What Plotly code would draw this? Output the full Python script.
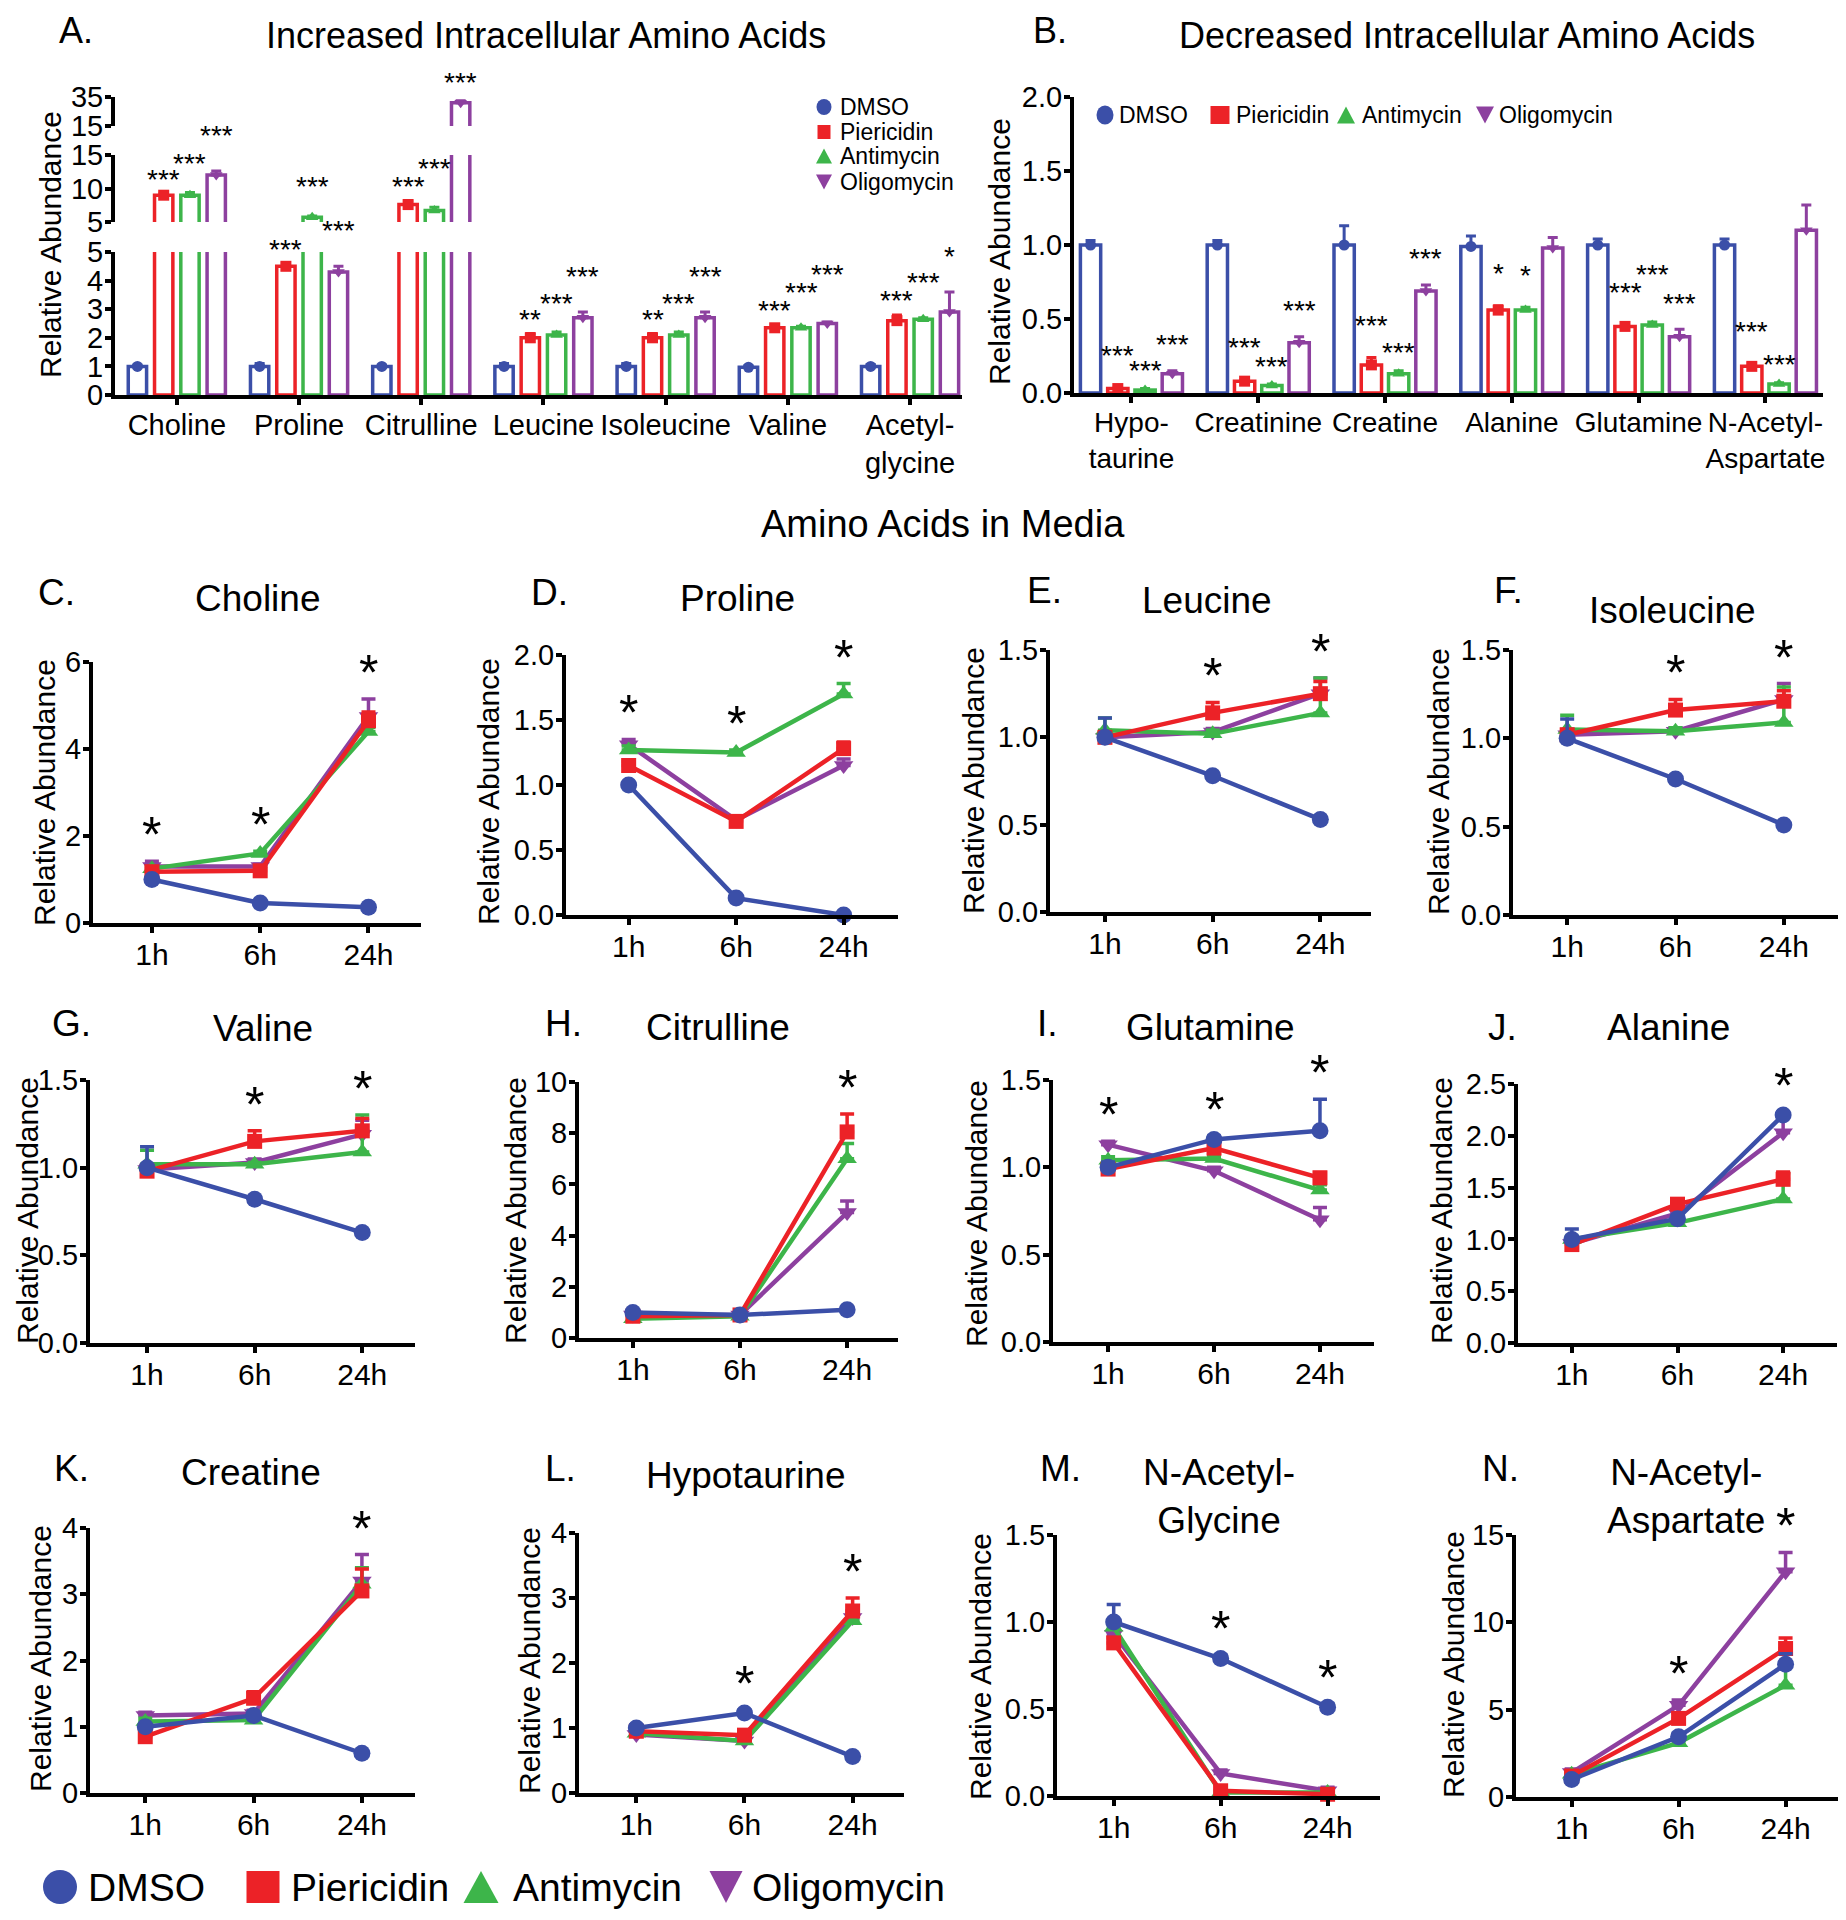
import plotly.graph_objects as go

# ---------------------------------------------------------------- data
treatments = ['DMSO', 'Piericidin', 'Antimycin', 'Oligomycin']
time_labels = ['1h', '6h', '24h']

# Panel A - increased intracellular amino acids (mean and SEM)
a_categories = ['Choline', 'Proline', 'Citrulline', 'Leucine', 'Isoleucine', 'Valine', 'Acetyl-<br>glycine']
a_dmso = [1.0, 1.0, 1.0, 1.0, 1.0, 0.97, 1.0]
a_piericidin = [9.0, 4.5, 7.6, 2.0, 2.0, 2.35, 2.6]
a_antimycin = [9.0, 5.7, 6.7, 2.1, 2.1, 2.35, 2.65]
a_oligomycin = [12.0, 4.3, 31.0, 2.7, 2.7, 2.5, 2.9]
a_dmso_err = [0.05, 0.1, 0.05, 0.1, 0.1, 0.05, 0.07]
a_piericidin_err = [0.3, 0.1, 0.6, 0.15, 0.15, 0.1, 0.2]
a_antimycin_err = [0.4, 0.2, 0.5, 0.1, 0.1, 0.05, 0.05]
a_oligomycin_err = [0.6, 0.2, 1.5, 0.2, 0.2, 0.05, 0.7]
a_dmso_sig = ['', '', '', '', '', '', '']
a_piericidin_sig = ['***', '***', '***', '**', '**', '***', '***']
a_antimycin_sig = ['***', '***', '***', '***', '***', '***', '***']
a_oligomycin_sig = ['***', '***', '***', '***', '***', '***', '*']

# Panel B - decreased intracellular amino acids (mean and SEM)
b_categories = ['Hypo-<br>taurine', 'Creatinine', 'Creatine', 'Alanine', 'Glutamine', 'N-Acetyl-<br>Aspartate']
b_dmso = [1.0, 1.0, 1.0, 0.99, 1.0, 1.0]
b_piericidin = [0.03, 0.08, 0.19, 0.56, 0.45, 0.18]
b_antimycin = [0.02, 0.05, 0.13, 0.56, 0.46, 0.06]
b_oligomycin = [0.13, 0.34, 0.69, 0.98, 0.38, 1.10]
b_dmso_err = [0.03, 0.03, 0.13, 0.07, 0.04, 0.04]
b_piericidin_err = [0.01, 0.01, 0.05, 0.03, 0.01, 0.02]
b_antimycin_err = [0.01, 0.01, 0.02, 0.02, 0.02, 0.01]
b_oligomycin_err = [0.02, 0.04, 0.04, 0.07, 0.05, 0.17]
b_dmso_sig = ['', '', '', '', '', '']
b_piericidin_sig = ['***', '***', '***', '*', '***', '***']
b_antimycin_sig = ['***', '***', '***', '*', '***', '***']
b_oligomycin_sig = ['***', '***', '***', '', '***', '']

# Panels C-N - amino acids in media; rows = DMSO, Piericidin, Antimycin, Oligomycin; cols = 1h, 6h, 24h
choline_mean = [[1.0, 0.46, 0.36], [1.18, 1.2, 4.65], [1.25, 1.6, 4.4], [1.3, 1.3, 4.75]]
choline_err = [[0.03, 0.03, 0.03], [0.05, 0.05, 0.2], [0.05, 0.05, 0.1], [0.12, 0.05, 0.4]]
choline_sig = ['*', '*', '*']

proline_mean = [[1.0, 0.13, 0.0], [1.15, 0.72, 1.28], [1.27, 1.25, 1.70], [1.31, 0.73, 1.15]]
proline_err = [[0.02, 0.02, 0.01], [0.03, 0.03, 0.05], [0.03, 0.02, 0.08], [0.04, 0.02, 0.05]]
proline_sig = ['*', '*', '*']

leucine_mean = [[1.0, 0.78, 0.53], [1.0, 1.14, 1.25], [1.04, 1.02, 1.14], [1.0, 1.03, 1.25]]
leucine_err = [[0.11, 0.01, 0.01], [0.03, 0.06, 0.07], [0.07, 0.02, 0.2], [0.02, 0.02, 0.09]]
leucine_sig = ['', '*', '*']

isoleucine_mean = [[1.0, 0.77, 0.51], [1.02, 1.16, 1.21], [1.05, 1.04, 1.09], [1.02, 1.04, 1.22]]
isoleucine_err = [[0.11, 0.01, 0.01], [0.03, 0.06, 0.06], [0.08, 0.02, 0.2], [0.02, 0.02, 0.09]]
isoleucine_sig = ['', '*', '*']

valine_mean = [[1.0, 0.82, 0.63], [0.98, 1.15, 1.21], [1.02, 1.02, 1.09], [0.99, 1.03, 1.19]]
valine_err = [[0.12, 0.01, 0.01], [0.03, 0.06, 0.07], [0.08, 0.01, 0.21], [0.02, 0.02, 0.08]]
valine_sig = ['', '*', '*']

citrulline_mean = [[1.0, 0.9, 1.1], [0.85, 0.9, 8.05], [0.75, 0.85, 7.0], [0.9, 0.9, 4.9]]
citrulline_err = [[0.05, 0.02, 0.05], [0.1, 0.05, 0.7], [0.05, 0.05, 0.6], [0.05, 0.05, 0.45]]
citrulline_sig = ['', '', '*']

glutamine_mean = [[1.0, 1.16, 1.21], [0.99, 1.11, 0.94], [1.04, 1.05, 0.87], [1.13, 0.98, 0.70]]
glutamine_err = [[0.03, 0.02, 0.18], [0.02, 0.03, 0.03], [0.02, 0.02, 0.03], [0.02, 0.02, 0.07]]
glutamine_sig = ['*', '*', '*']

alanine_mean = [[1.0, 1.2, 2.2], [0.95, 1.34, 1.58], [1.0, 1.16, 1.39], [0.96, 1.25, 2.03]]
alanine_err = [[0.1, 0.03, 0.03], [0.03, 0.04, 0.07], [0.03, 0.03, 0.25], [0.03, 0.04, 0.15]]
alanine_sig = ['', '', '*']

creatine_mean = [[1.0, 1.17, 0.6], [0.85, 1.43, 3.05], [1.08, 1.1, 3.15], [1.17, 1.2, 3.2]]
creatine_err = [[0.03, 0.05, 0.03], [0.05, 0.1, 0.33], [0.05, 0.05, 0.25], [0.05, 0.05, 0.4]]
creatine_sig = ['', '', '*']

hypotaurine_mean = [[1.0, 1.23, 0.56], [0.95, 0.89, 2.8], [0.92, 0.8, 2.65], [0.9, 0.8, 2.7]]
hypotaurine_err = [[0.05, 0.05, 0.03], [0.05, 0.05, 0.2], [0.05, 0.05, 0.1], [0.05, 0.05, 0.1]]
hypotaurine_sig = ['', '*', '*']

nacetylglycine_mean = [[1.0, 0.79, 0.51], [0.88, 0.03, 0.01], [0.97, 0.02, 0.02], [0.93, 0.13, 0.03]]
nacetylglycine_err = [[0.1, 0.02, 0.02], [0.03, 0.02, 0.01], [0.02, 0.01, 0.01], [0.02, 0.02, 0.02]]
nacetylglycine_sig = ['', '*', '*']

nacetylaspartate_mean = [[1.0, 3.45, 7.6], [1.2, 4.5, 8.5], [1.3, 3.1, 6.4], [1.4, 5.25, 12.9]]
nacetylaspartate_err = [[0.1, 0.2, 0.6], [0.2, 0.3, 0.6], [0.2, 0.2, 1.2], [0.2, 0.3, 1.1]]
nacetylaspartate_sig = ['', '*', '*']

# ---------------------------------------------------------------- style
PAGE_W, PAGE_H = 1846, 1920
BODY = 8                      # default page margin around the plot div
W, H = PAGE_W - BODY, PAGE_H - BODY
FONT = 'Liberation Sans, Arial, Helvetica, sans-serif'
COLORS = ['#3b4fa8', '#ec2227', '#3db54a', '#8d409f']
SYMBOLS = ['circle', 'square', 'triangle-up', 'triangle-down']
LINE_SIZES = [17, 15, 17, 17]
AXW = 4


def fx(px):
    return (px - BODY) / W


def fy(py):
    return 1 - (py - BODY) / H


def axis_style(**kw):
    d = dict(showline=True, linecolor='black', linewidth=AXW, ticks='outside', ticklen=6,
             tickwidth=3.5, tickcolor='black', showgrid=False, zeroline=False, automargin=False,
             tickfont=dict(family=FONT, size=29, color='black'), fixedrange=True)
    d.update(kw)
    return d


def y_axis_style(**kw):
    return axis_style(ticklabelstandoff=-4, **kw)


fig = go.Figure()
layout = dict(width=W, height=H, margin=dict(l=0, r=0, t=0, b=0, pad=0, autoexpand=False),
              paper_bgcolor='white', plot_bgcolor='white', barmode='overlay', showlegend=False,
              font=dict(family=FONT, color='black'))
annotations = []
shapes = []


def text_ann(x, y, text, size, color='black', **kw):
    d = dict(x=fx(x), y=fy(y), xref='paper', yref='paper', text=text, showarrow=False,
             font=dict(family=FONT, size=size, color=color), xanchor='center', yanchor='middle')
    d.update(kw)
    annotations.append(d)


def star_ann(xref, yref, x, yfrac, text, size):
    # significance label: x in data units, y as a fraction of the y axis domain
    annotations.append(dict(x=x, y=yfrac, xref=xref, yref=f'{yref} domain', text=text,
                            showarrow=False, xanchor='center', yanchor='middle',
                            font=dict(family=FONT, size=size, color='black')))


def stagger(star_px, prev_px, text, prev_text):
    # raise a label that would collide with its left neighbour (pixel space, y grows downwards)
    if prev_px is not None and len(text) > 1 and len(prev_text) > 1 and abs(star_px - prev_px) < 15:
        return prev_px - 18
    return star_px


def legend_entry(gx, tx, y, j, gw, gh, tsize):
    x0, x1, xc = fx(gx - gw / 2), fx(gx + gw / 2), fx(gx)
    yt, yb = fy(y - gh / 2), fy(y + gh / 2)
    base = dict(xref='paper', yref='paper', fillcolor=COLORS[j], line=dict(width=0), layer='above')
    if j == 0:
        shapes.append(dict(type='circle', x0=x0, x1=x1, y0=yb, y1=yt, **base))
    elif j == 1:
        shapes.append(dict(type='rect', x0=x0, x1=x1, y0=yb, y1=yt, **base))
    elif j == 2:
        shapes.append(dict(type='path', path=f'M {x0},{yb} L {x1},{yb} L {xc},{yt} Z', **base))
    else:
        shapes.append(dict(type='path', path=f'M {x0},{yt} L {x1},{yt} L {xc},{yb} Z', **base))
    text_ann(tx, y, treatments[j], tsize, xanchor='left')


def y_title(x, y):
    text_ann(x, y, 'Relative Abundance', 30, textangle=-90)


# ---------------------------------------------------------------- panel A (broken axis)
a_means = [a_dmso, a_piericidin, a_antimycin, a_oligomycin]
a_errs = [a_dmso_err, a_piericidin_err, a_antimycin_err, a_oligomycin_err]
a_sigs = [a_dmso_sig, a_piericidin_sig, a_antimycin_sig, a_oligomycin_sig]
A_SEGS = [('y', 'yaxis', (395, 252), (0, 5), [0, 1, 2, 3, 4, 5]),
          ('y2', 'yaxis2', (222, 155), (5, 15), [5, 10, 15]),
          ('y3', 'yaxis3', (126, 97), (15, 35), [15, 35])]
OFF = 0.215
A_STAR_PX = [0, 14, 29, 36]   # default lift of the significance labels above each bar

layout['xaxis'] = axis_style(domain=[fx(115), fx(962)], anchor='y', range=[-0.506, 6.425],
                             tickvals=list(range(len(a_categories))), ticktext=a_categories,
                             tickangle=0, ticklabelstandoff=-5)
for yid, yname, (pb, pt), rng, tv in A_SEGS:
    layout[yname] = y_axis_style(domain=[fy(pb), fy(pt)], anchor='x', range=list(rng), tickvals=tv)
    for j in range(4):
        xs = [i + (j - 1.5) * OFF for i in range(len(a_categories))]
        fig.add_trace(go.Bar(x=xs, y=a_means[j], width=0.15, xaxis='x', yaxis=yid,
                             marker=dict(color='white', line=dict(color=COLORS[j], width=3.5)),
                             error_y=dict(type='data', array=a_errs[j], arrayminus=[0] * len(xs),
                                          symmetric=False, color=COLORS[j], thickness=3, width=5),
                             hoverinfo='skip'))
        inside = [m if rng[0] <= m <= rng[1] else None for m in a_means[j]]
        fig.add_trace(go.Scatter(x=xs, y=inside, mode='markers', xaxis='x', yaxis=yid,
                                 hoverinfo='skip',
                                 marker=dict(symbol=SYMBOLS[j], size=11, color=COLORS[j])))

for i in range(len(a_categories)):
    prev_px, prev_text = None, ''
    for j in range(1, 4):
        s = a_sigs[j][i]
        if not s:
            prev_px, prev_text = None, ''
            continue
        top = a_means[j][i] + a_errs[j][i]
        for yid, yname, (pb, pt), rng, tv in A_SEGS:
            if top <= rng[1] or yid == 'y3':
                ppu = (pb - pt) / (rng[1] - rng[0])
                lift = 18 if yid == 'y3' else A_STAR_PX[j]
                star_px = pb - (top - rng[0]) * ppu - lift
                star_px = stagger(star_px, prev_px, s, prev_text)
                star_ann('x', yid, i + (j - 1.5) * OFF, (pb - star_px) / (pb - pt), s, 28)
                prev_px, prev_text = star_px, s
                break

text_ann(546, 36, 'Increased Intracellular Amino Acids', 36)
text_ann(76, 31, 'A.', 36)
y_title(50, 245)
for j, yrow in enumerate([107, 132, 156, 182]):
    legend_entry(824, 838, yrow, j, [15, 13, 16, 16][j], [16, 14, 15, 15][j], 23)

# ---------------------------------------------------------------- panel B
b_means = [b_dmso, b_piericidin, b_antimycin, b_oligomycin]
b_errs = [b_dmso_err, b_piericidin_err, b_antimycin_err, b_oligomycin_err]
b_sigs = [b_dmso_sig, b_piericidin_sig, b_antimycin_sig, b_oligomycin_sig]
B_STAR_PX = [0, 32, 18, 26]
B_DOM = (393, 97)
B_RANGE = (0, 2.0)
layout['xaxis2'] = axis_style(domain=[fx(1074), fx(1823)], anchor='y4', range=[-0.453, 5.454],
                              tickvals=list(range(len(b_categories))), ticktext=b_categories,
                              tickangle=0, ticklabelstandoff=-5,
                              tickfont=dict(family=FONT, size=28, color='black'))
layout['yaxis4'] = y_axis_style(domain=[fy(B_DOM[0]), fy(B_DOM[1])], anchor='x2', range=list(B_RANGE),
                                tickvals=[0, 0.5, 1.0, 1.5, 2.0], tickformat='.1f')
b_ppu = (B_DOM[0] - B_DOM[1]) / (B_RANGE[1] - B_RANGE[0])
for j in range(4):
    xs = [i + (j - 1.5) * OFF for i in range(len(b_categories))]
    fig.add_trace(go.Bar(x=xs, y=b_means[j], width=0.16, xaxis='x2', yaxis='y4',
                         marker=dict(color='white', line=dict(color=COLORS[j], width=3.5)),
                         error_y=dict(type='data', array=b_errs[j], arrayminus=[0] * len(xs),
                                      symmetric=False, color=COLORS[j], thickness=3, width=5),
                         hoverinfo='skip'))
    fig.add_trace(go.Scatter(x=xs, y=b_means[j], mode='markers', xaxis='x2', yaxis='y4',
                             hoverinfo='skip',
                             marker=dict(symbol=SYMBOLS[j], size=11, color=COLORS[j])))

for i in range(len(b_categories)):
    prev_px, prev_text = None, ''
    for j in range(1, 4):
        s = b_sigs[j][i]
        if not s:
            prev_px, prev_text = None, ''
            continue
        top = b_means[j][i] + b_errs[j][i]
        lift = B_STAR_PX[j] if len(s) > 1 else 32
        star_px = B_DOM[0] - (top - B_RANGE[0]) * b_ppu - lift
        star_px = stagger(star_px, prev_px, s, prev_text)
        star_ann('x2', 'y4', i + (j - 1.5) * OFF, (B_DOM[0] - star_px) / (B_DOM[0] - B_DOM[1]), s, 28)
        prev_px, prev_text = star_px, s

text_ann(1467, 36, 'Decreased Intracellular Amino Acids', 36)
text_ann(1050, 31, 'B.', 36)
y_title(1000, 252)
for j, (gx, tx) in enumerate([(1105, 1117), (1220, 1234), (1346, 1360), (1485, 1497)]):
    legend_entry(gx, tx, 115, j, [17, 19, 18, 18][j], [19, 18, 17, 17][j], 23)

# ---------------------------------------------------------------- panels C-N
text_ann(943, 524, 'Amino Acids in Media', 38)

f1 = [0, 0.5, 1.0, 1.5]
PANELS = [
    ('C.', 'Choline', choline_mean, choline_err, choline_sig, (93, 421), (923, 662), (-0.544, 2.485), (0, 6), [0, 2, 4, 6], '', (56, 592), (257, 598), (44, 793)),
    ('D.', 'Proline', proline_mean, proline_err, proline_sig, (566, 898), (915, 655), (-0.583, 2.506), (0, 2), [0, 0.5, 1.0, 1.5, 2.0], '.1f', (549, 592), (737, 598), (488, 792)),
    ('E.', 'Leucine', leucine_mean, leucine_err, leucine_sig, (1050, 1371), (912, 650), (-0.51, 2.47), (0, 1.5), f1, '.1f', (1044, 590), (1207, 600), (973, 781)),
    ('F.', 'Isoleucine', isoleucine_mean, isoleucine_err, isoleucine_sig, (1513, 1838), (915, 650), (-0.5, 2.5), (0, 1.5), f1, '.1f', (1508, 590), (1672, 610), (1438, 782)),
    ('G.', 'Valine', valine_mean, valine_err, valine_sig, (90, 415), (1343, 1080), (-0.53, 2.49), (0, 1.5), f1, '.1f', (71, 1023), (263, 1028), (27, 1211)),
    ('H.', 'Citrulline', citrulline_mean, citrulline_err, citrulline_sig, (579, 898), (1338, 1082), (-0.503, 2.475), (0, 10), [0, 2, 4, 6, 8, 10], '', (563, 1023), (718, 1027), (515, 1211)),
    ('I.', 'Glutamine', glutamine_mean, glutamine_err, glutamine_sig, (1053, 1374), (1342, 1080), (-0.52, 2.51), (0, 1.5), f1, '.1f', (1047, 1023), (1210, 1027), (976, 1214)),
    ('J.', 'Alanine', alanine_mean, alanine_err, alanine_sig, (1518, 1837), (1343, 1084), (-0.51, 2.51), (0, 2.5), [0, 0.5, 1.0, 1.5, 2.0, 2.5], '.1f', (1502, 1027), (1668, 1027), (1441, 1211)),
    ('K.', 'Creatine', creatine_mean, creatine_err, creatine_sig, (90, 415), (1793, 1528), (-0.51, 2.49), (0, 4), [0, 1, 2, 3, 4], '', (71, 1468), (251, 1472), (40, 1659)),
    ('L.', 'Hypotaurine', hypotaurine_mean, hypotaurine_err, hypotaurine_sig, (579, 904), (1793, 1533), (-0.53, 2.475), (0, 4), [0, 1, 2, 3, 4], '', (560, 1468), (746, 1475), (529, 1661)),
    ('M.', 'N-Acetyl-<br>Glycine', nacetylglycine_mean, nacetylglycine_err, nacetylglycine_sig, (1057, 1380), (1796, 1535), (-0.53, 2.49), (0, 1.5), f1, '.1f', (1060, 1468), (1219, 1496), (980, 1667)),
    ('N.', 'N-Acetyl-<br>Aspartate', nacetylaspartate_mean, nacetylaspartate_err, nacetylaspartate_sig, (1516, 1838), (1797, 1535), (-0.52, 2.49), (0, 15), [0, 5, 10, 15], '', (1500, 1468), (1686, 1496), (1453, 1665)),
]

DRAW_ORDER = [3, 2, 1, 0]
for k, (letter, title, means, errs, sigs, xd, yd, xr, yr, ytv, yfmt, lpos, tpos, ypos) in enumerate(PANELS):
    xa, ya = 3 + k, 5 + k
    xid, yid = f'x{xa}', f'y{ya}'
    layout[f'xaxis{xa}'] = axis_style(domain=[fx(xd[0]), fx(xd[1])], anchor=yid, range=list(xr),
                                      tickvals=[0, 1, 2], ticktext=time_labels, ticklabelstandoff=-4,
                                      tickfont=dict(family=FONT, size=30, color='black'))
    layout[f'yaxis{ya}'] = y_axis_style(domain=[fy(yd[0]), fy(yd[1])], anchor=xid, range=list(yr),
                                        tickvals=ytv, tickformat=yfmt)
    for j in DRAW_ORDER:
        fig.add_trace(go.Scatter(x=[0, 1, 2], y=means[j], mode='lines+markers', xaxis=xid, yaxis=yid,
                                 hoverinfo='skip', cliponaxis=False,
                                 line=dict(color=COLORS[j], width=4.5),
                                 marker=dict(symbol=SYMBOLS[j], size=LINE_SIZES[j], color=COLORS[j]),
                                 error_y=dict(type='data', array=errs[j], arrayminus=[0, 0, 0],
                                              symmetric=False, color=COLORS[j], thickness=3.5, width=7)))
    ppu = (yd[0] - yd[1]) / (yr[1] - yr[0])
    for t, s in enumerate(sigs):
        if s:
            top = max(means[j][t] + errs[j][t] for j in range(4))
            frac = ((top - yr[0]) * ppu + 26) / (yd[0] - yd[1])
            star_ann(xid, yid, t, frac, s, 50)
    text_ann(lpos[0], lpos[1], letter, 37)
    text_ann(tpos[0], tpos[1], title, 37)
    y_title(ypos[0], ypos[1])

# ---------------------------------------------------------------- bottom legend
for j, (gx, tx) in enumerate([(60, 86), (263, 289), (481, 511), (726, 750)]):
    legend_entry(gx, tx, 1887, j, [34, 33, 35, 33][j], [34, 32, 32, 32][j], 39)

layout['annotations'] = annotations
layout['shapes'] = shapes
fig.update_layout(**layout)
fig.write_html('out.html')
